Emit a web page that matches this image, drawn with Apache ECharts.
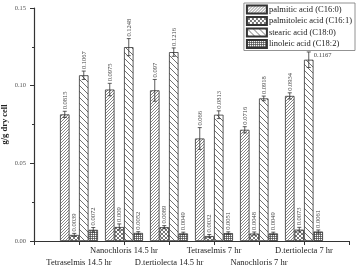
<!DOCTYPE html>
<html lang="en">
<head>
    <meta charset="UTF-8">
    <script src="https://cdn.jsdelivr.net/npm/echarts@6/dist/echarts.min.js"></script>
    <style>
        html, body { margin: 0; padding: 0; background: #fff; }
        #main { width: 356px; height: 267px; }
    </style>
</head>
<body>
    <div id="main"></div>
    <script>
        // groups (first and last slot left empty so ticks sit like the original)
        var groups = ['', 'Tetraselmis 14.5 hr', 'Nanochloris 14.5 hr', 'D.tertiolecta 14.5 hr',
            'Tetraselmis 7 hr', 'Nanochloris 7 hr', 'D.tertiolecta 7 hr', ''];

        var seriesNames = ['palmitic acid (C16:0)', 'palmitoleic acid (C16:1)', 'stearic acid (C18:0)', 'linoleic acid (C18:2)'];

        var palmitic = [0.0815, 0.0975, 0.097, 0.066, 0.0716, 0.0934];
        var palmitoleic = [0.0039, 0.009, 0.0089, 0.0032, 0.0048, 0.0073];
        var stearic = [0.1067, 0.1248, 0.1216, 0.0813, 0.0918, 0.1167];
        var linoleic = [0.0072, 0.0052, 0.0049, 0.0051, 0.0049, 0.0061];

        var palmiticErr = [0.002, 0.004, 0.007, 0.007, 0.002, 0.002];
        var palmitoleicErr = [0.001, 0.002, 0.001, 0.001, 0.001, 0.0015];
        var stearicErr = [0.0027, 0.0055, 0.0027, 0.0025, 0.0015, 0.005];
        var linoleicErr = [0.0015, 0.0008, 0.0008, 0.0008, 0.0008, 0.001];

        var yTicks = [0, 0.05, 0.10, 0.15];

        var values = [palmitic, palmitoleic, stearic, linoleic];
        var errors = [palmiticErr, palmitoleicErr, stearicErr, linoleicErr];

        var BAR_W = 9.5;
        var FONT = '"Liberation Serif", "DejaVu Serif", serif';

        function makePattern(kind) {
            var c = document.createElement('canvas');
            var s = kind === 'grid' ? 2 : (kind === 'cross' ? 4 : (kind === 'fine' ? 3 : 6));
            c.width = s; c.height = s;
            var g = c.getContext('2d');
            g.fillStyle = '#fff';
            g.fillRect(0, 0, s, s);
            g.lineWidth = 0.8;
            if (kind === 'fine') {
                g.strokeStyle = '#666';
                g.beginPath();
                g.moveTo(-1, s + 1); g.lineTo(s + 1, -1);
                g.moveTo(-1, 1); g.lineTo(1, -1);
                g.moveTo(s - 1, s + 1); g.lineTo(s + 1, s - 1);
                g.stroke();
            } else if (kind === 'wide') {
                g.strokeStyle = '#333';
                g.lineWidth = 0.7;
                g.beginPath();
                g.moveTo(-1, -1); g.lineTo(s + 1, s + 1);
                g.moveTo(-1, s - 1); g.lineTo(1, s + 1);
                g.moveTo(s - 1, -1); g.lineTo(s + 1, 1);
                g.stroke();
            } else if (kind === 'cross') {
                g.strokeStyle = '#555';
                g.beginPath();
                g.moveTo(0, 0); g.lineTo(s, s);
                g.moveTo(0, s); g.lineTo(s, 0);
                g.stroke();
            } else {
                g.strokeStyle = '#444';
                g.lineWidth = 0.7;
                g.beginPath();
                g.moveTo(0, 0.5); g.lineTo(s, 0.5);
                g.moveTo(0.5, 0); g.lineTo(0.5, s);
                g.stroke();
            }
            return { image: c, repeat: 'repeat' };
        }

        var patterns = [makePattern('fine'), makePattern('cross'), makePattern('wide'), makePattern('grid')];

        var chart = echarts.init(document.getElementById('main'), null, { renderer: 'canvas' });

        var series = [];
        values.forEach(function (vals, si) {
            series.push({
                name: seriesNames[si],
                type: 'bar',
                barWidth: BAR_W,
                barGap: '0%',
                data: [null].concat(vals).concat([null]),
                itemStyle: { color: patterns[si], borderColor: '#333', borderWidth: 0.8 },
                animation: false
            });
        });

        // error bars and value labels
        values.forEach(function (vals, si) {
            var data = vals.map(function (v, i) { return [i + 1, v, errors[si][i]]; });
            series.push({
                type: 'custom',
                silent: true,
                animation: false,
                data: data,
                z: 5,
                renderItem: function (params, api) {
                    var idx = api.value(0);
                    var v = api.value(1);
                    var e = api.value(2);
                    var off = (si - 1.5) * BAR_W;
                    var top = api.coord([idx, v + e]);
                    var bot = api.coord([idx, v - e]);
                    var x = top[0] + off;
                    var txt = String(vals[params.dataIndex]);
                    var horizontal = (si === 2 && idx === 6);
                    var style = { stroke: '#333', lineWidth: 0.8 };
                    var children = [
                        { type: 'line', shape: { x1: x, y1: top[1], x2: x, y2: bot[1] }, style: style },
                        { type: 'line', shape: { x1: x - 2, y1: top[1], x2: x + 2, y2: top[1] }, style: style },
                        { type: 'line', shape: { x1: x - 2, y1: bot[1], x2: x + 2, y2: bot[1] }, style: style }
                    ];
                    if (horizontal) {
                        children.push({
                            type: 'text', x: x + 5, y: top[1] + 3,
                            style: { text: txt, font: '6.5px ' + FONT, fill: '#444', align: 'left', verticalAlign: 'middle' }
                        });
                    } else {
                        children.push({
                            type: 'text', x: x + 0.5, y: top[1] - 2, rotation: Math.PI / 2,
                            style: { text: txt, font: '6.5px ' + FONT, fill: '#444', align: 'left', verticalAlign: 'middle' }
                        });
                    }
                    return { type: 'group', children: children };
                }
            });
        });

        chart.setOption({
            backgroundColor: '#fff',
            animation: false,
            textStyle: { fontFamily: FONT },
            grid: { left: 34, right: 7, top: 8, bottom: 26, containLabel: false, outerBoundsMode: 'none' },
            legend: {
                data: seriesNames,
                orient: 'vertical',
                right: 1,
                top: 3,
                itemWidth: 20,
                itemHeight: 8,
                itemGap: 1.5,
                padding: [1.5, 3, 1.5, 2],
                borderColor: '#777',
                borderWidth: 0.8,
                backgroundColor: '#fff',
                icon: 'rect',
                textStyle: { fontFamily: FONT, fontSize: 8.5, lineHeight: 9, color: '#222', padding: [0, 0, 0, -3] },
                selectedMode: false
            },
            xAxis: {
                type: 'category',
                data: groups,
                boundaryGap: false,
                axisLine: { lineStyle: { color: '#333', width: 1.2 } },
                axisTick: { show: true, interval: 0, length: 4, lineStyle: { color: '#333' } },
                axisLabel: {
                    interval: 0,
                    hideOverlap: false,
                    margin: 4,
                    fontFamily: FONT,
                    fontSize: 8.5,
                    lineHeight: 12,
                    color: '#222',
                    formatter: function (v, i) {
                        if (!v) return '';
                        return i % 2 === 1 ? '\n' + v : v;
                    }
                },
                splitLine: { show: false }
            },
            yAxis: {
                type: 'value',
                min: 0,
                max: 0.15,
                interval: 0.05,
                name: 'g/g dry cell',
                nameLocation: 'middle',
                nameGap: 25,
                nameMoveOverlap: false,
                nameTextStyle: { fontFamily: FONT, fontSize: 8.5, color: '#222', fontWeight: 'bold' },
                axisLine: { show: true, lineStyle: { color: '#333', width: 1.2 } },
                axisTick: { show: true, length: 4, lineStyle: { color: '#333' } },
                minorTick: { show: true, splitNumber: 2, length: 2, lineStyle: { color: '#333' } },
                axisLabel: {
                    fontFamily: FONT, fontSize: 6.5, color: '#555', margin: 8,
                    formatter: function (v) {
                        for (var k = 0; k < yTicks.length; k++) {
                            if (Math.abs(yTicks[k] - v) < 1e-9) return yTicks[k].toFixed(2);
                        }
                        return v.toFixed(2);
                    }
                },
                splitLine: { show: false }
            },
            series: series
        });
    </script>
</body>
</html>
